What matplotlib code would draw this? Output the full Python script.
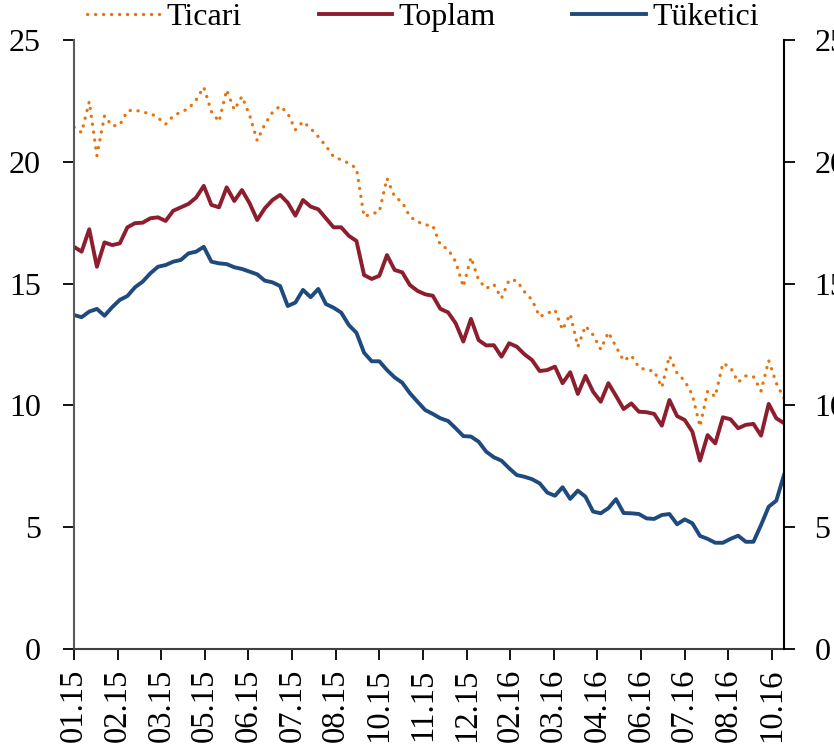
import pandas as pd
import matplotlib
matplotlib.use("Agg")
import matplotlib.pyplot as plt
import matplotlib.dates as mdates

plt.rcParams['font.family'] = ['Liberation Serif', 'DejaVu Serif']
plt.rcParams['font.size'] = 22

# weekly data, first week of 2015 to mid October 2016
start_date = "2015-01-02"
n_weeks = 94

ticari = [
    21.42, 21.2, 22.47, 20.25, 21.89, 21.47, 21.51, 22.09, 22.13, 22.03,
    21.99, 21.81, 21.54, 21.88, 22.04, 22.18, 22.54, 23.06, 22.06, 21.65,
    22.95, 22.13, 22.68, 21.92, 20.87, 21.54, 22.03, 22.29, 21.99, 21.31,
    21.65, 21.37, 21.03, 20.65, 20.21, 20.08, 19.94, 19.73, 17.75, 17.86,
    17.95, 19.32, 18.57, 18.34, 17.75, 17.54, 17.41, 17.38, 16.58, 16.41,
    15.90, 14.87, 16.08, 15.15, 14.8, 14.97, 14.40, 15.15, 15.12, 14.67,
    14.33, 13.64, 13.78, 13.92, 13.10, 13.75, 12.41, 13.26, 12.89, 12.30,
    13.00, 12.41, 11.83, 12.05, 11.56, 11.45, 11.41, 10.74, 12.03, 11.32,
    11.01, 10.43, 9.13, 10.59, 10.36, 11.73, 11.56, 10.95, 11.21, 11.18,
    10.59, 11.84, 10.91, 10.29,
]
toplam = [
    16.51, 16.31, 17.23, 15.69, 16.69, 16.58, 16.65, 17.31, 17.48, 17.50,
    17.68, 17.72, 17.57, 17.99, 18.13, 18.27, 18.53, 19.01, 18.23, 18.13,
    18.95, 18.39, 18.84, 18.30, 17.61, 18.09, 18.43, 18.64, 18.32, 17.79,
    18.43, 18.16, 18.05, 17.68, 17.31, 17.31, 16.96, 16.75, 15.35, 15.19,
    15.32, 16.17, 15.56, 15.46, 14.94, 14.70, 14.56, 14.50, 13.96, 13.82,
    13.37, 12.62, 13.55, 12.68, 12.46, 12.47, 12.00, 12.55, 12.41, 12.10,
    11.86, 11.41, 11.45, 11.59, 10.91, 11.36, 10.47, 11.21, 10.56, 10.15,
    10.91, 10.39, 9.85, 10.08, 9.74, 9.72, 9.65, 9.17, 10.22, 9.56,
    9.40, 8.92, 7.73, 8.78, 8.44, 9.51, 9.43, 9.06, 9.20, 9.24,
    8.76, 10.06, 9.47, 9.27,
]
tuketici = [
    13.71, 13.62, 13.85, 13.96, 13.68, 14.03, 14.33, 14.49, 14.85, 15.08,
    15.42, 15.69, 15.76, 15.90, 15.97, 16.24, 16.31, 16.51, 15.90, 15.83,
    15.80, 15.67, 15.60, 15.49, 15.38, 15.12, 15.05, 14.90, 14.08, 14.22,
    14.74, 14.44, 14.78, 14.16, 14.01, 13.81, 13.30, 12.98, 12.16, 11.81,
    11.81, 11.45, 11.15, 10.93, 10.50, 10.15, 9.81, 9.65, 9.47, 9.36,
    9.06, 8.74, 8.72, 8.51, 8.10, 7.87, 7.73, 7.42, 7.14, 7.07,
    6.97, 6.80, 6.42, 6.29, 6.64, 6.16, 6.50, 6.25, 5.64, 5.57,
    5.78, 6.15, 5.58, 5.57, 5.54, 5.36, 5.34, 5.50, 5.54, 5.12,
    5.32, 5.16, 4.64, 4.52, 4.36, 4.36, 4.52, 4.65, 4.40, 4.40,
    5.09, 5.84, 6.09, 7.14,
]

dates = pd.date_range(start_date, periods=n_weeks, freq="7D")

fig = plt.figure(figsize=(8.34, 7.5), dpi=100)
ax = fig.add_axes([0.0887, 0.1347, 0.8513, 0.812])

ax.plot(dates, ticari, color="#E8720C", lw=2.3, linestyle=(0, (0.1, 2.4)),
        dash_capstyle="round", label="Ticari")
ax.plot(dates, toplam, color="#8C1E2E", lw=2.8, label="Toplam")
ax.plot(dates, tuketici, color="#1F4A7E", lw=2.8, label="Tüketici")

ax.set_xlim(dates[0], dates[-1])
ax.set_ylim(0, 25)
ax.set_yticks([0, 5, 10, 15, 20, 25])

# Excel-like date axis: a tick every 40 days
tick_dates = pd.date_range(start_date, dates[-1], freq="40D")
ax.set_xticks(tick_dates)
ax.xaxis.set_major_formatter(mdates.DateFormatter("%m.%y"))
plt.setp(ax.get_xticklabels(), rotation=90)

ax2 = ax.twinx()
ax2.set_ylim(0, 25)
ax2.set_yticks([0, 5, 10, 15, 20, 25])

for a in (ax, ax2):
    a.spines['top'].set_visible(False)
    a.tick_params(direction="out", length=8, width=1.3, pad=14, labelsize=23)
ax.tick_params(axis="x", pad=6, labelsize=23.5)
ax.tick_params(axis="y", pad=16)
ax.spines['left'].set_color("#595959")
ax.spines['bottom'].set_color("#404040")
ax2.spines['left'].set_visible(False)
ax2.spines['bottom'].set_visible(False)
for s in ('left', 'bottom'):
    ax.spines[s].set_linewidth(1.5)
ax2.spines['right'].set_linewidth(1.5)
ax.spines['right'].set_visible(False)

fig.legend(loc="center", bbox_to_anchor=(0.507, 0.977), ncol=3, frameon=False,
           handlelength=2.3, handletextpad=0.2, columnspacing=2.4,
           borderaxespad=0, fontsize=23)

fig.savefig("out.png", dpi=100)
